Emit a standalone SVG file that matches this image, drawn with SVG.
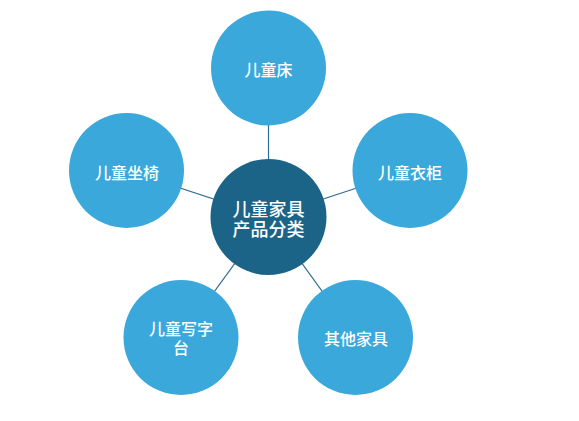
<svg xmlns="http://www.w3.org/2000/svg" width="579" height="421" viewBox="0 0 579 421">
<style>
.leaf{fill:#3aa8da}
.hub{fill:#1b6488}
.t{fill:#ffffff;font-family:"Noto Sans CJK SC","Noto Sans",sans-serif;font-size:16px;font-weight:500;text-anchor:middle;dominant-baseline:central}
.th{font-size:18px}
.c{stroke:#2f6a90;stroke-width:1.2;fill:none}
</style>
<rect width="579" height="421" fill="#ffffff"/>
<g id="connectors">
<line class="c" x1="268.5" y1="217" x2="268.5" y2="68"/>
<line class="c" x1="268.5" y1="217" x2="126.5" y2="170.5"/>
<line class="c" x1="268.5" y1="217" x2="410" y2="170.5"/>
<line class="c" x1="268.5" y1="217" x2="181" y2="337.5"/>
<line class="c" x1="268.5" y1="217" x2="355.5" y2="337.5"/>
</g>
<g id="hub">
<circle class="hub" cx="268.5" cy="217" r="58"/>
<text class="t th" x="268.5" y="208"><tspan x="268.5" y="208">儿童家具</tspan><tspan x="268.5" y="228">产品分类</tspan></text>
</g>
<g id="bed">
<circle class="leaf" cx="268.5" cy="68" r="57.5"/>
<text class="t" x="268.5" y="69">儿童床</text>
</g>
<g id="chair">
<circle class="leaf" cx="126.5" cy="170.5" r="57.5"/>
<text class="t" x="127" y="172">儿童坐椅</text>
</g>
<g id="wardrobe">
<circle class="leaf" cx="410" cy="170.5" r="57.5"/>
<text class="t" x="410" y="172">儿童衣柜</text>
</g>
<g id="desk">
<circle class="leaf" cx="181" cy="337.5" r="57.5"/>
<text class="t" x="181" y="328"><tspan x="181" y="328">儿童写字</tspan><tspan x="181" y="347">台</tspan></text>
</g>
<g id="other">
<circle class="leaf" cx="355.5" cy="337.5" r="57.5"/>
<text class="t" x="356" y="338">其他家具</text>
</g>
</svg>
